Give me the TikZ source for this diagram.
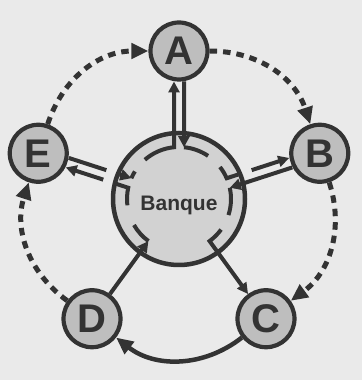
\documentclass[tikz,border=0pt]{standalone}
\usepackage{fontspec}
\setmainfont{Liberation Sans}
\usetikzlibrary{arrows.meta,calc}
\definecolor{bg}{HTML}{EAEAEA}
\definecolor{ink}{HTML}{333333}
\definecolor{nodefill}{HTML}{BEBEBE}
\definecolor{bankfill}{HTML}{D2D2D2}
\begin{document}
\begin{tikzpicture}[x=1pt,y=1pt,
  nd/.style={circle, draw=ink, fill=nodefill, line width=4.2pt, minimum size=57pt, inner sep=0pt,
    font=\fontsize{40}{40}\selectfont\bfseries, text=ink},
  bankstyle/.style={circle, draw=ink, fill=bankfill, line width=4.5pt, minimum size=132pt, inner sep=0pt},
  spoke/.style={draw=ink, line width=4pt},
  tip/.style={-{Triangle[length=11pt,width=11pt]}},
  flow/.style={draw=ink, line width=5pt, dash pattern=on 7.5pt off 6pt, -{Triangle[length=17pt,width=15pt]}},
  loan/.style={draw=ink, line width=4.5pt, -{Triangle[length=17pt,width=15pt]}}
]
\fill[bg] (0,0) rectangle (362,380);
\useasboundingbox (0,0) rectangle (362,380);
\coordinate (O) at (179,181);
\node[bankstyle] (bank) at (O) {};
\node[nd] (A) at ([shift={(90:148)}]O) {A};
\node[nd] (B) at ([shift={(18:148)}]O) {B};
\node[nd] (C) at ([shift={(-54:148)}]O) {C};
\node[nd] (D) at ([shift={(-126:148)}]O) {D};
\node[nd] (E) at ([shift={(162:148)}]O) {E};

% A
\begin{scope}[shift={(O)}, rotate=90]
  \coordinate (Ao1) at (41:52);
  \coordinate (Ao2) at (117.5,5);
  \coordinate (Ai1) at (117.5,-5);
  \coordinate (Ai2) at (-5.52:52);
  \draw[spoke,tip] (Ao1) arc[start angle=41,end angle=5.52,radius=52] -- (Ao2);
  \draw[spoke,tip] (Ai1) -- (Ai2);
  \draw[spoke] (Ai2) arc[start angle=-5.52,end angle=-34,radius=52];
\end{scope}
% B
\begin{scope}[shift={(O)}, rotate=18]
  \coordinate (Bo1) at (20:52);
  \coordinate (Bo2) at (64,5);
  \coordinate (Bo3) at (78,5);
  \coordinate (Bo4) at (117.5,5);
  \coordinate (Bi1) at (117.5,-5);
  \coordinate (Bi2) at (-5.52:52);
  \draw[spoke] (Bo1) arc[start angle=20,end angle=5.52,radius=52] -- (Bo2);
  \draw[spoke,tip] (Bo3) -- (Bo4);
  \draw[spoke,tip] (Bi1) -- (Bi2);
  \draw[spoke] (Bi2) arc[start angle=-5.52,end angle=-36,radius=52];
\end{scope}
% C
\begin{scope}[shift={(O)}, rotate=-54]
  \coordinate (Co1) at (18:52);
  \coordinate (Co2) at (117.5,0);
  \draw[spoke,tip] (Co1) arc[start angle=18,end angle=0,radius=52] -- (Co2);
\end{scope}
% D
\begin{scope}[shift={(O)}, rotate=-126]
  \coordinate (Di1) at (117.5,0);
  \coordinate (Di2) at (0:52);
  \draw[spoke,tip] (Di1) -- (Di2);
  \draw[spoke] (Di2) arc[start angle=0,end angle=-24,radius=52];
\end{scope}
% E
\begin{scope}[shift={(O)}, rotate=162]
  \coordinate (Eo1) at (25:52);
  \coordinate (Eo2) at (64,5);
  \coordinate (Eo3) at (78,5);
  \coordinate (Eo4) at (117.5,5);
  \coordinate (Ei1) at (117.5,-5);
  \coordinate (Ei2) at (78,-5);
  \coordinate (Ei3) at (64,-5);
  \coordinate (Ei4) at (-5.52:52);
  \draw[spoke] (Eo1) arc[start angle=25,end angle=5.52,radius=52] -- (Eo2);
  \draw[spoke,tip] (Eo3) -- (Eo4);
  \draw[spoke] (Ei1) -- (Ei2);
  \draw[spoke,tip] (Ei3) -- (Ei4);
  \draw[spoke] (Ei4) arc[start angle=-5.52,end angle=-14,radius=52];
\end{scope}

% outer flows
\draw[flow] (A) to[bend left=36] (B);
\draw[flow] (B) to[bend left=36] (C);
\draw[flow] (D) to[bend left=36] (E);
\draw[flow] (E) to[bend left=36] (A);
\draw[loan] (C) to[bend left=38] (D);

\node[font=\fontsize{21}{21}\selectfont\bfseries, text=ink] (lbl) at ([yshift=-6pt]O) {Banque};
\end{tikzpicture}
\end{document}
